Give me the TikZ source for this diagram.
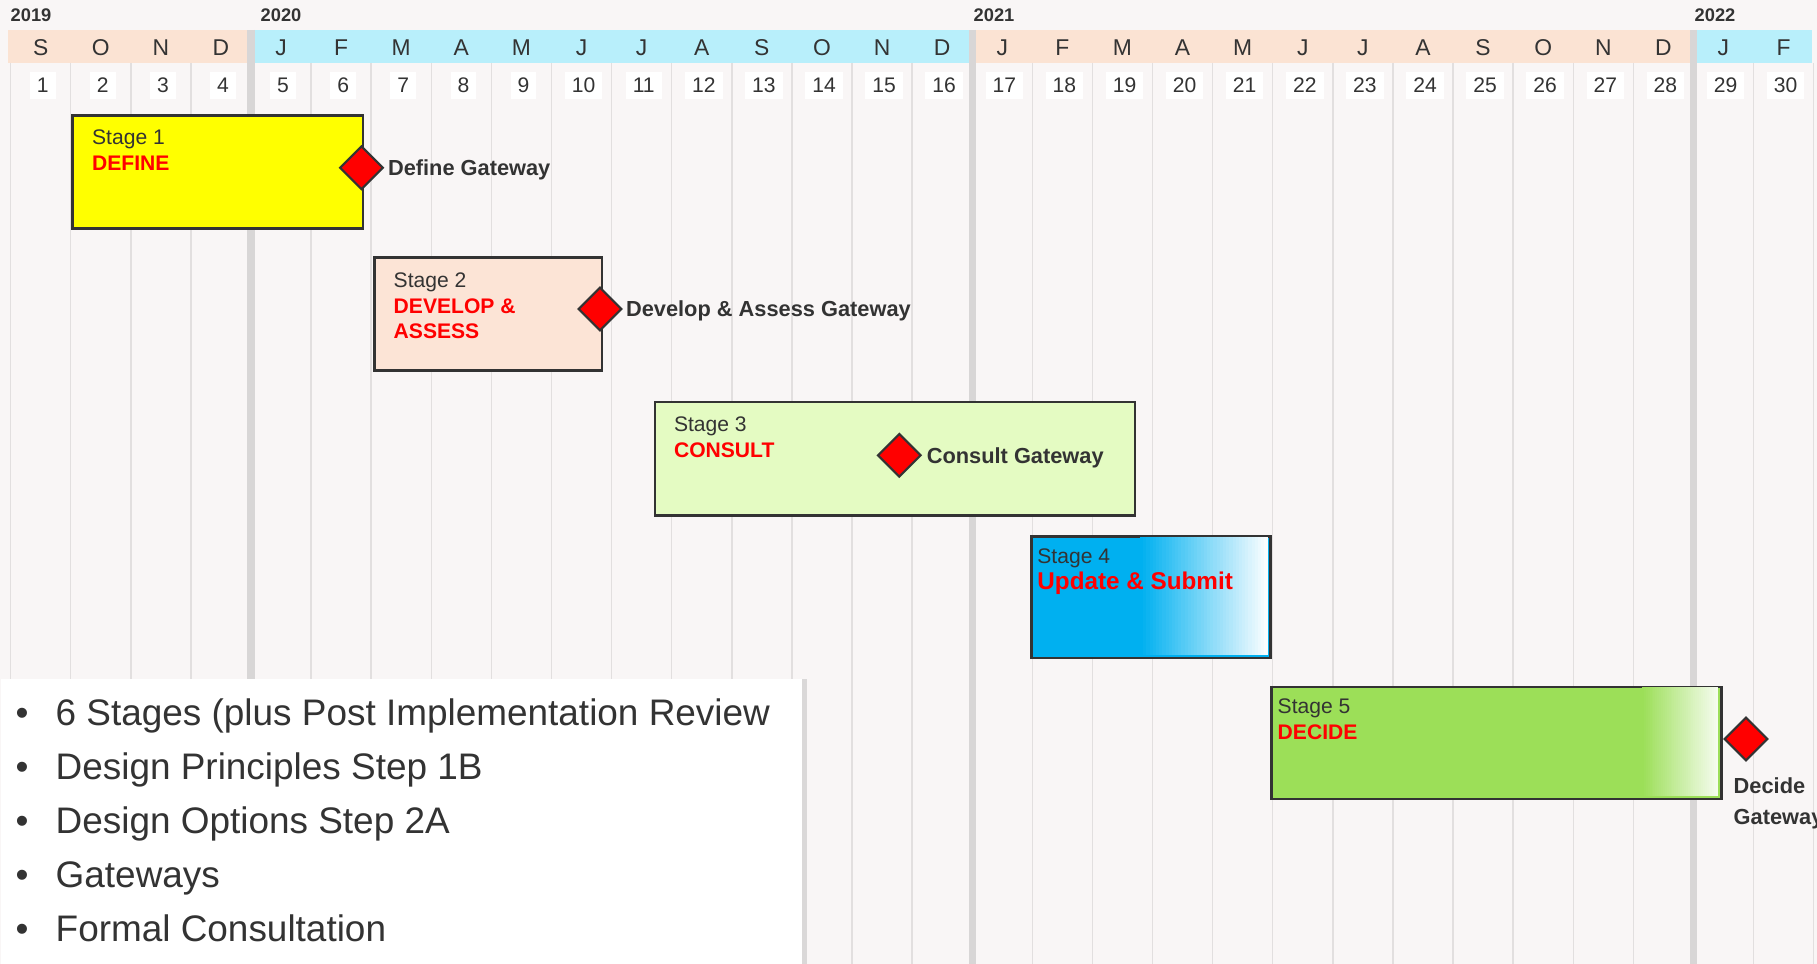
\documentclass[tikz,border=0pt]{standalone}
\usepackage{fontspec}
\setmainfont{Liberation Sans}
\usepackage{tikz}
\usetikzlibrary{shapes.geometric,positioning,shadows}
\definecolor{chartbg}{HTML}{F9F6F6}
\definecolor{gridgray}{HTML}{E2DFDF}
\definecolor{yeargray}{HTML}{D8D6D6}
\definecolor{bandpeach}{HTML}{FBE3D3}
\definecolor{bandcyan}{HTML}{B8EFFB}
\definecolor{textgray}{HTML}{333333}
\definecolor{stageyellow}{HTML}{FFFF00}
\definecolor{stagepeach}{HTML}{FCE4D6}
\definecolor{stagelime}{HTML}{E4FBC2}
\definecolor{stageblue}{HTML}{00B0F0}
\definecolor{stagegreen}{HTML}{9CDF58}
\definecolor{gatered}{HTML}{FF0000}

\begin{document}
\begin{tikzpicture}[x=0.01cm, y=-0.01cm,
    stage/.style={rectangle, draw=textgray, line width=0.75pt, anchor=north west,
                  inner sep=0pt, minimum height=1.133cm},
    stagetext/.style={anchor=north west, inner sep=0pt, align=left, text=textgray,
                      font=\fontsize{6}{7.3}\selectfont},
    gate/.style={diamond, draw=textgray, fill=gatered, line width=0.6pt, inner sep=0pt,
                 minimum width=0.435cm, minimum height=0.435cm},
    gatelabel/.style={anchor=west, inner sep=0pt, text depth=0pt, text=textgray,
                      font=\fontsize{6.2}{8.8}\selectfont\bfseries},
    month/.style={text=textgray, font=\fontsize{6.5}{7}\selectfont},
    monthnum/.style={fill=white, text=textgray, inner xsep=0.07cm, inner ysep=0pt,
                     minimum height=0.27cm, font=\fontsize{6}{7}\selectfont},
    year/.style={anchor=base west, inner sep=0pt, text=textgray,
                 font=\fontsize{5.2}{6}\selectfont\bfseries},
    panel/.style={rectangle, fill=white, inner sep=0pt, anchor=north west,
                  drop shadow={shadow xshift=0.05cm, shadow yshift=0cm, opacity=0.25}},
    point/.style={anchor=base west, inner sep=0pt, text=textgray,
                  font=\fontsize{10.5}{12}\selectfont}
]
    \useasboundingbox (0,0) rectangle (1817,964);
    \fill[chartbg] (0,0) rectangle (1817,964);

    % Header
    \fill[bandpeach] (8,30) rectangle (251,63);
    \fill[bandcyan] (251,30) rectangle (972,63);
    \fill[bandpeach] (972,30) rectangle (1693,63);
    \fill[bandcyan] (1693,30) rectangle (1812,63);
    \foreach \i in {0,...,30}
        \draw[gridgray, line width=0.4pt] (10.6+\i*60.1,63) -- (10.6+\i*60.1,964);
    \foreach \i in {4,16,28}
        \draw[yeargray, line width=2pt] (10.6+\i*60.1,30) -- (10.6+\i*60.1,964);

    \node[year] (y2019) at (10,22) {2019};
    \node[year] (y2020) at (260,22) {2020};
    \node[year] (y2021) at (973,22) {2021};
    \node[year] (y2022) at (1694,22) {2022};

    \foreach \m [count=\i] in {S,O,N,D,J,F,M,A,M,J,J,A,S,O,N,D,J,F,M,A,M,J,J,A,S,O,N,D,J,F}{
        \node[month] (m\i) at (10.6+\i*60.1-30.05,47.5) {\m};
        \node[monthnum] (n\i) at (10.6+\i*60.1-28,85.5) {\i};
    }

    % Stages
    \node[stage, fill=stageyellow, minimum width=2.905cm] (stage1) at (71,114) {};
    \node[stagetext, below right=0.153cm and 0.204cm of stage1.north west] (title1)
        {Stage 1\\\textcolor{gatered}{\bfseries DEFINE}};

    \node[stage, fill=stagepeach, minimum width=2.276cm] (stage2) at (373,256) {};
    \node[stagetext, below right=0.16cm and 0.2cm of stage2.north west] (title2)
        {Stage 2\\\textcolor{gatered}{\bfseries DEVELOP \&}\\\textcolor{gatered}{\bfseries ASSESS}};

    \node[stage, fill=stagelime, minimum width=4.798cm] (stage3) at (653.5,400.7) {};
    \node[stagetext, below right=0.153cm and 0.198cm of stage3.north west] (title3)
        {Stage 3\\\textcolor{gatered}{\bfseries CONSULT}};

    \node[stage, fill=stageblue, minimum width=2.39cm, minimum height=1.217cm] (stage4) at (1030,535) {};
    % fade to white on the right
    \foreach \s in {0,...,39}{
        \pgfmathsetmacro\pct{100-2.5*\s}
        \fill[stageblue!\pct!white] (1140+\s*3.19,537) rectangle (1143.4+\s*3.19,654.7);
    }
    \node[stagetext, below right=0.13cm and 0.067cm of stage4.north west] (title4)
        {Stage 4\\\textcolor{gatered}{\fontsize{6.9}{7.7}\selectfont\bfseries Update \& Submit}};

    \node[stage, fill=stagegreen, minimum width=4.5cm, minimum height=1.12cm] (stage5) at (1270,685.7) {};
    \foreach \s in {0,...,39}{
        \pgfmathsetmacro\pct{100-2.3*\s}
        \fill[stagegreen!\pct!white] (1642+\s*1.9,687.5) rectangle (1644.2+\s*1.9,795.9);
    }
    \node[stagetext, below right=0.123cm and 0.07cm of stage5.north west] (title5)
        {Stage 5\\\textcolor{gatered}{\bfseries DECIDE}};

    % Gateways
    \node[gate] (gate1) at (361.5,167.7) {};
    \node[gatelabel, right=0.03cm of gate1.east] (gatelabel1) {Define Gateway};

    \node[gate] (gate2) at (600,309) {};
    \node[gatelabel, right=0.025cm of gate2.east] (gatelabel2) {Develop \& Assess Gateway};

    \node[gate] (gate3) at (899.3,455.3) {};
    \node[gatelabel, right=0.04cm of gate3.east] (gatelabel3) {Consult Gateway};

    \node[gate] (gate5) at (1746,739) {};
    \node[gatelabel, align=left, below right=0.15cm and -0.13cm of gate5.south] (gatelabel5)
        {Decide\\Gateway};

    % Key points
    \node[panel, minimum width=8.01cm, minimum height=2.95cm] (panel) at (0,678) {};
    \foreach \txt [count=\k] in {6 Stages (plus Post Implementation Review, Design Principles Step 1B,
                                 Design Options Step 2A, Gateways, Formal Consultation}{
        \node[point, anchor=base] (dot\k) at (22,671+54.2*\k) {\textbullet};
        \node[point] (item\k) at (55,671+54.2*\k) {\txt};
    }
\end{tikzpicture}
\end{document}
